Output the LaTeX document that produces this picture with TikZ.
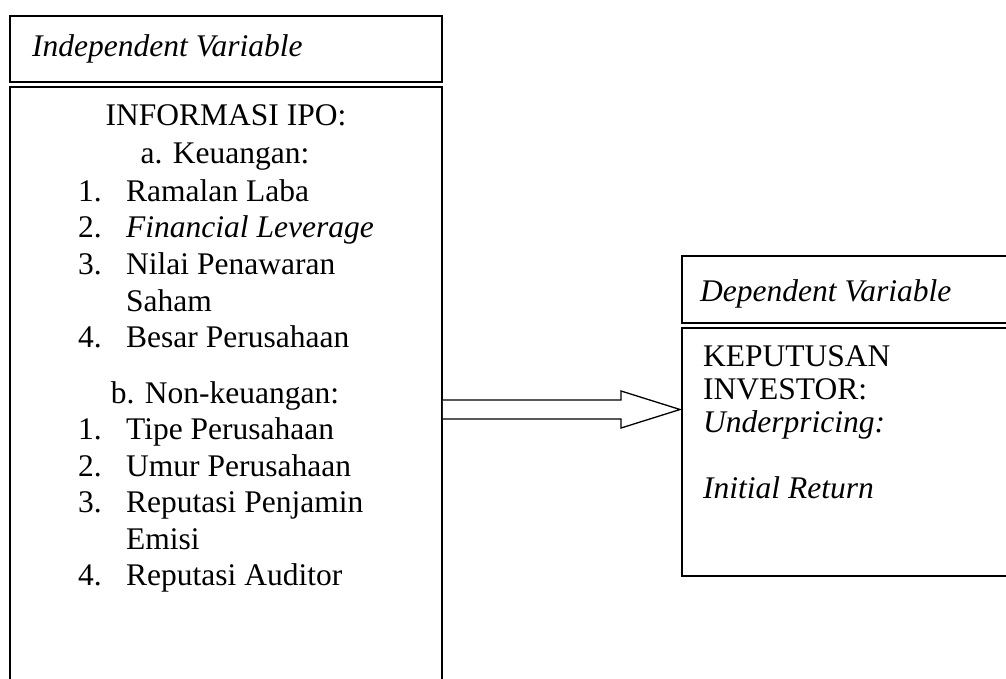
\documentclass[tikz,border=0pt]{standalone}
\usepackage{fontspec}
\setmainfont{Liberation Serif}
\usetikzlibrary{calc}
\begin{document}
\begin{tikzpicture}[x=1pt,y=-1pt,
  font=\fontsize{31.5}{36}\selectfont,
  box/.style={draw, line width=1.9pt, inner sep=0pt},
  txt/.style={anchor=base west, inner sep=0pt},
  ctr/.style={anchor=base, inner sep=0pt},
  arr/.style={draw, line width=1.3pt, fill=white, line join=miter}]
\useasboundingbox (0,0) rectangle (1006,679);
\begin{scope}
\clip (0,0) rectangle (1006,679);
% boxes
\node[box, minimum width=432pt, minimum height=66pt] (indep) at (226,49) {};
\node[box, minimum width=432pt, minimum height=623pt] (info) at (226,398.5) {};
\node[box, minimum width=348pt, minimum height=67pt] (dep) at (856,289.5) {};
\node[box, minimum width=348pt, minimum height=248pt] (kep) at (856,452) {};
\end{scope}
% headers
\node[txt] (indepT) at (32,57) {\itshape Independent Variable};
\node[txt] (depT) at (700,301) {\itshape Dependent Variable};
% left box contents
\node[ctr] (t0) at (226,126) {INFORMASI IPO:};
\node[ctr] (t1) at (225,163.5) {a. Keuangan:};
\node[txt] (n1) at (78,201) {1.};   \node[txt] (i1) at (126,201) {Ramalan Laba};
\node[txt] (n2) at (78,237.5) {2.}; \node[txt] (i2) at (126,237.5) {\itshape Financial Leverage};
\node[txt] (n3) at (78,274) {3.};   \node[txt] (i3) at (126,274) {Nilai Penawaran};
\node[txt] (i3b) at (126,311) {Saham};
\node[txt] (n4) at (78,347.5) {4.}; \node[txt] (i4) at (126,347.5) {Besar Perusahaan};
\node[ctr] (t2) at (225,403) {b. Non-keuangan:};
\node[txt] (m1) at (78,439.5) {1.}; \node[txt] (j1) at (126,439.5) {Tipe Perusahaan};
\node[txt] (m2) at (78,476) {2.};   \node[txt] (j2) at (126,476) {Umur Perusahaan};
\node[txt] (m3) at (78,512.5) {3.}; \node[txt] (j3) at (126,512.5) {Reputasi Penjamin};
\node[txt] (j3b) at (126,549) {Emisi};
\node[txt] (m4) at (78,585.5) {4.}; \node[txt] (j4) at (126,585.5) {Reputasi Auditor};
% right box contents
\node[txt] (r1) at (703,366) {KEPUTUSAN};
\node[txt] (r2) at (703,399) {INVESTOR:};
\node[txt] (r3) at (703,432) {\itshape Underpricing:};
\node[txt] (r4) at (703,498) {\itshape Initial Return};
% block arrow
\coordinate (tip) at ($(kep.west |- 0,409.5)+(-1,0)$);
\coordinate (tail) at (info.east |- tip);
\draw[arr] ($(tail)+(0,-9.5)$) -- ($(tip)+(-59,-9.5)$) -- ($(tip)+(-59,-18.5)$)
  -- (tip) -- ($(tip)+(-59,18.5)$) -- ($(tip)+(-59,9.5)$) -- ($(tail)+(0,9.5)$);
\end{tikzpicture}
\end{document}
